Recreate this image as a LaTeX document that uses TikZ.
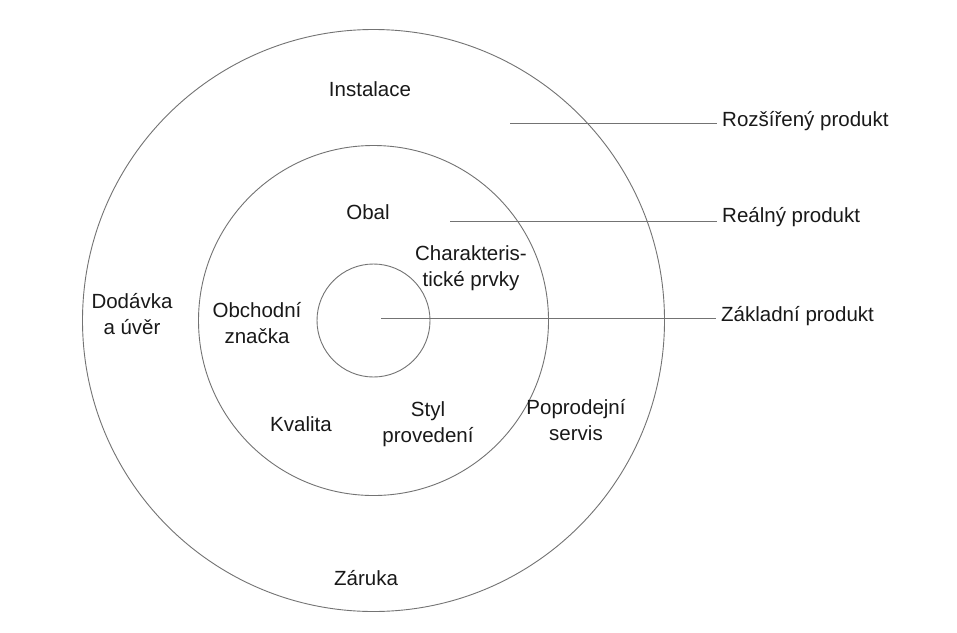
\documentclass[tikz,border=0pt]{standalone}
\usepackage{fontspec}
\setmainfont{Liberation Sans}
\begin{document}
\begin{tikzpicture}[x=1pt,y=-1pt,
  ring/.style={draw=black!55,line width=0.9pt},
  leader/.style={draw=black!55,line width=0.9pt},
  lbl/.style={inner sep=0pt,align=center,font=\fontsize{20.5}{26}\selectfont,text=black!90},
  side/.style={lbl,anchor=west}]
\useasboundingbox[fill=white] (0,0) rectangle (957,632);
\coordinate (c) at (373.5,320.5);
\draw[ring] (c) circle (291);
\draw[ring] (c) circle (175);
\draw[ring] (c) circle (56.5);
% ring labels
\node[lbl] (inst) at (370,89) {Instalace};
\node[lbl] (obal) at (368,212) {Obal};
\node[lbl] (char) at (471,268) {Charakteris-\\tické prvky};
\node[lbl] (dod) at (132,314) {Dodávka\\a úvěr};
\node[lbl] (obch) at (257,323) {Obchodní\\značka};
\node[lbl] (kval) at (301,424) {Kvalita};
\node[lbl] (styl) at (428,424) {Styl\\provedení};
\node[lbl] (popr) at (576,420) {Poprodejní\\servis};
\node[lbl] (zar) at (366,578) {Záruka};
% side labels
\node[side] (roz) at (722,121) {Rozšířený produkt};
\node[side] (real) at (722,217) {Reálný produkt};
\node[side] (zakl) at (721,316) {Základní produkt};
\coordinate (sroz) at (510,123);
\coordinate (sreal) at (450,221);
\coordinate (szakl) at (381,318);
\draw[leader] (sroz) -- ([xshift=-5pt]sroz -| roz.west);
\draw[leader] (sreal) -- ([xshift=-5pt]sreal -| real.west);
\draw[leader] (szakl) -- ([xshift=-5pt]szakl -| zakl.west);
\end{tikzpicture}
\end{document}
